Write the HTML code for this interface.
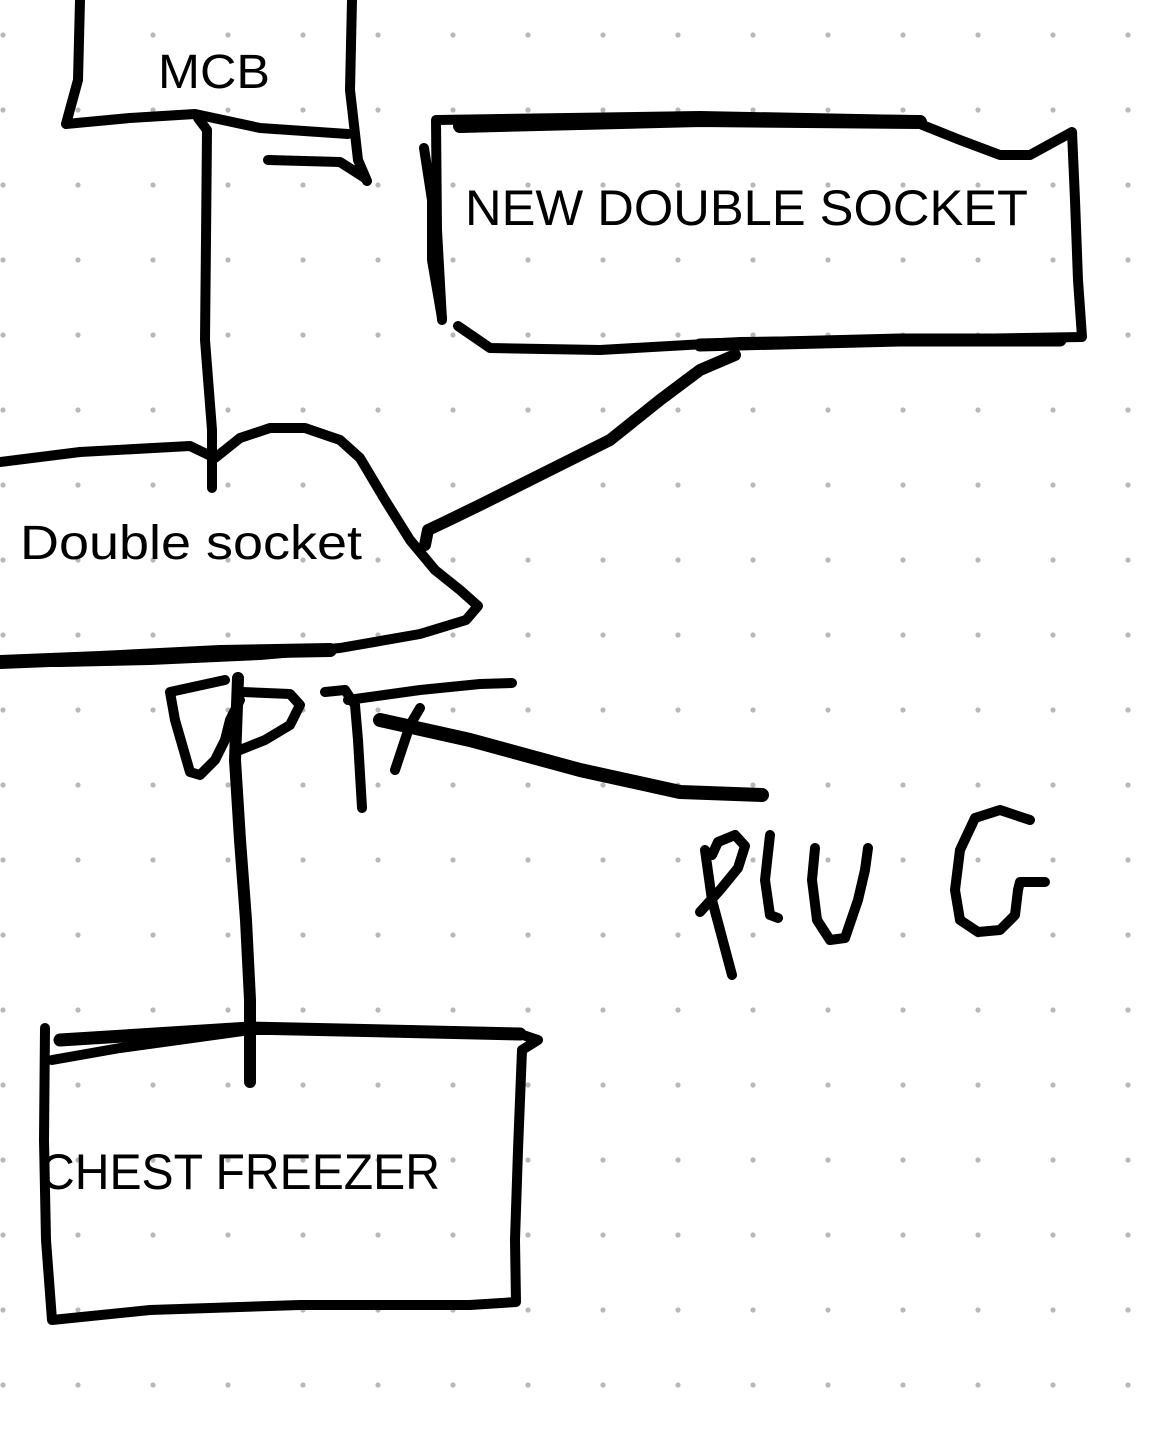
<!DOCTYPE html>
<html><head><style>
html,body{margin:0;padding:0;background:#fff;}
svg{display:block;}
text{font-family:"Liberation Sans",sans-serif;fill:#000;}
</style></head><body>
<svg width="1170" height="1436" viewBox="0 0 1170 1436" xmlns="http://www.w3.org/2000/svg">
<defs>
<pattern id="d" x="-34.5" y="-2.5" width="75" height="75" patternUnits="userSpaceOnUse">
<circle cx="37.5" cy="37.5" r="2.6" fill="#b8b8b8"/>
</pattern>
</defs>
<rect width="1170" height="1436" fill="url(#d)"/>
<g fill="none" stroke="#000" stroke-width="10" stroke-linecap="round" stroke-linejoin="round">
<path d="M80 0 L78 80 L66 124 L130 118 L195 114 L260 128 L348 134"/>
<path d="M352 0 L350 90 L358 160 L367 181"/>
<path d="M268 160 L340 162 L365 178"/>
<path d="M198 118 L207 130 L206 240 L205 340 L212 430 L212 488"/>
<path d="M438 120 L700 116 L910 120 L960 140 L1000 155 L1030 155 L1072 132 L1075 200 L1078 280 L1082 337 L900 340 L740 342 L600 350 L490 348 L458 326"/>
<path d="M436 120 L437 230 L442 320"/>
<path d="M424 148 L432 200 L432 260 L442 318"/>
<path d="M460 126 L700 120 L920 122" stroke-width="14"/>
<path d="M700 345 L900 340 L1060 340" stroke-width="13"/>
<path d="M735 355 L700 370 L660 400 L610 440 L540 475 L480 505 L445 522 L428 530 L425 545" stroke-width="12"/>
<path d="M0 462 L80 452 L190 446 L215 458 L240 438 L270 428 L305 428 L340 440 L360 458 L385 500 L410 540 L435 570 L460 590 L478 606 L466 620 L420 634 L340 648 L260 655 L150 660 L60 662 L0 662"/>
<path d="M0 662 L100 658 L220 652 L330 650" stroke-width="14"/>
<path d="M225 680 L170 692 L175 720 L190 772 L200 775 L215 760 L225 740 L230 720 L240 700"/>
<path d="M242 692 L290 694 L300 705 L290 725 L265 740 L240 750"/>
<path d="M325 692 L345 690 L355 705 L358 740 L362 808"/>
<path d="M348 700 L420 690 L480 684 L512 683"/>
<path d="M420 708 L410 725 L395 770"/>
<path d="M380 720 L470 740 L580 770 L680 792 L762 795" stroke-width="14"/>
<path d="M238 678 L235 760 L240 840 L246 920 L250 1000 L250 1082" stroke-width="12"/>
<path d="M52 1060 L120 1048 L250 1030 L400 1030 L520 1034 L538 1040 L522 1050 L518 1150 L515 1240 L516 1302 L470 1305 L300 1305 L150 1310 L52 1320 L46 1240 L44 1140 L45 1028"/>
<path d="M60 1040 L250 1028 L520 1034" stroke-width="13"/>
<path d="M705 850 L712 900 L732 975"/>
<path d="M700 912 L720 890 L738 868 L745 846 L735 835 L718 842 L712 855"/>
<path d="M770 835 L765 880 L770 915 L778 918"/>
<path d="M815 848 L812 880 L817 920 L830 940 L845 938 L858 900 L865 870 L868 848"/>
<path d="M1030 820 L1000 810 L975 818 L960 850 L955 890 L960 920 L978 932 L1000 930 L1015 915 L1018 890 L1020 882 L1045 882"/>
</g>
<text x="158" y="88" font-size="48" textLength="112" lengthAdjust="spacingAndGlyphs">MCB</text>
<text x="465" y="225" font-size="50" textLength="563" lengthAdjust="spacingAndGlyphs">NEW DOUBLE SOCKET</text>
<text x="20" y="559" font-size="48" textLength="342" lengthAdjust="spacingAndGlyphs">Double socket</text>
<text x="40" y="1189" font-size="50" textLength="400" lengthAdjust="spacingAndGlyphs">CHEST FREEZER</text>
</svg>
</body></html>
